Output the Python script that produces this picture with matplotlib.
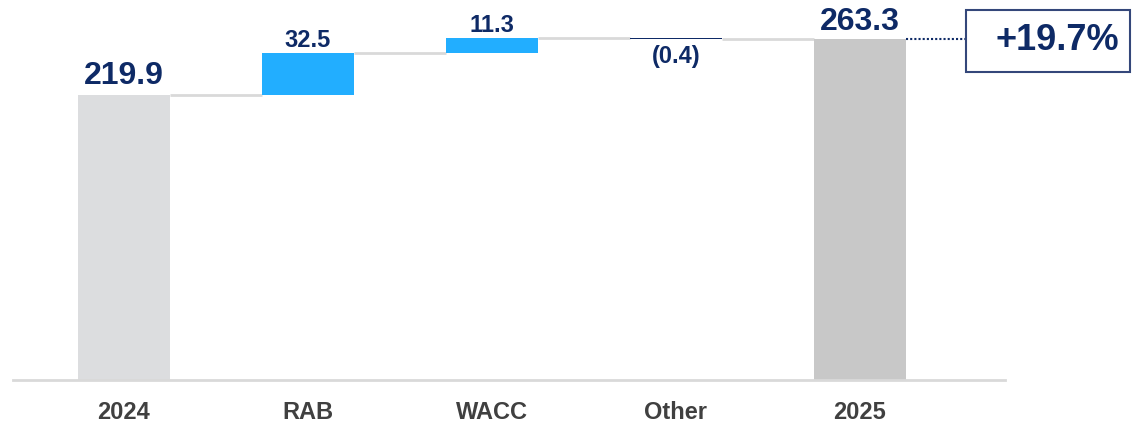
import numpy as np
import matplotlib.pyplot as plt
from matplotlib.patches import Rectangle

plt.rcParams['font.family'] = ['Liberation Sans', 'DejaVu Sans']

categories = ['2024', 'RAB', 'WACC', 'Other', '2025']
start_value = 219.9
deltas = [32.5, 11.3, -0.4]
end_value = 263.3
growth_label = '+19.7%'

navy = '#0E2A66'
blue = '#22AEFF'

fig = plt.figure(figsize=(11.36, 4.26), dpi=100)
ax = fig.add_axes([13 / 1136, 46 / 426, 992 / 1136, 380 / 426])

x = np.arange(len(categories))
w = 0.5

# totals
ax.bar(x[0], start_value, width=w, color='#DCDDDF')
ax.bar(x[-1], end_value, width=w, color='#C8C8C8')

# floating steps
running = start_value
levels = [start_value]
for i, d in enumerate(deltas):
    bottom = running if d >= 0 else running + d
    col = blue if d >= 0 else navy
    ax.bar(x[i + 1], abs(d), bottom=bottom, width=w, color=col)
    running += d
    levels.append(running)
levels.append(end_value)

# connector lines
for i in range(len(categories) - 1):
    ax.plot([x[i] + w / 2, x[i + 1] - w / 2], [levels[i], levels[i]],
            color='#D9D9D9', lw=2, solid_capstyle='butt', zorder=0)

# labels
ax.text(x[0], start_value + 3, f'{start_value:.1f}', ha='center', va='bottom',
        fontsize=23, fontweight='bold', color=navy)
ax.text(x[-1], end_value + 1, f'{end_value:.1f}', ha='center', va='bottom',
        fontsize=23, fontweight='bold', color=navy)
prev = start_value
for i, d in enumerate(deltas):
    if d >= 0:
        ax.text(x[i + 1], prev + d + 0.5, f'{d:.1f}', ha='center', va='bottom',
                fontsize=17, fontweight='bold', color=navy)
    else:
        ax.text(x[i + 1], prev + d - 5, f'({abs(d):.1f})', ha='center', va='top',
                fontsize=17, fontweight='bold', color=navy)
    prev += d

ax.set_xlim(-0.603, 4.788)
ax.set_ylim(0, 293)
ax.set_xticks(x)
ax.set_xticklabels(categories, fontsize=17, fontweight='bold', color='#404040')
ax.tick_params(axis='x', length=0, pad=15)
ax.set_yticks([])
for s in ['top', 'right', 'left']:
    ax.spines[s].set_visible(False)
ax.spines['bottom'].set_color('#D9D9D9')
ax.spines['bottom'].set_linewidth(2)

# growth box
ax.plot([x[-1] + w / 2, 4.576], [end_value, end_value], color=navy, lw=1.5,
        ls=(0, (1, 1)), clip_on=False, zorder=1)
box = Rectangle((966 / 1136, (426 - 72) / 426), 164 / 1136, 62 / 426,
                transform=fig.transFigure, facecolor='white', edgecolor='#34477A',
                lw=1.5, zorder=5)
fig.add_artist(box)
fig.text(1057 / 1136, (426 - 41) / 426, growth_label, ha='center', va='center',
         fontsize=26, fontweight='bold', color=navy, zorder=6)

fig.savefig('out.png', dpi=100)
